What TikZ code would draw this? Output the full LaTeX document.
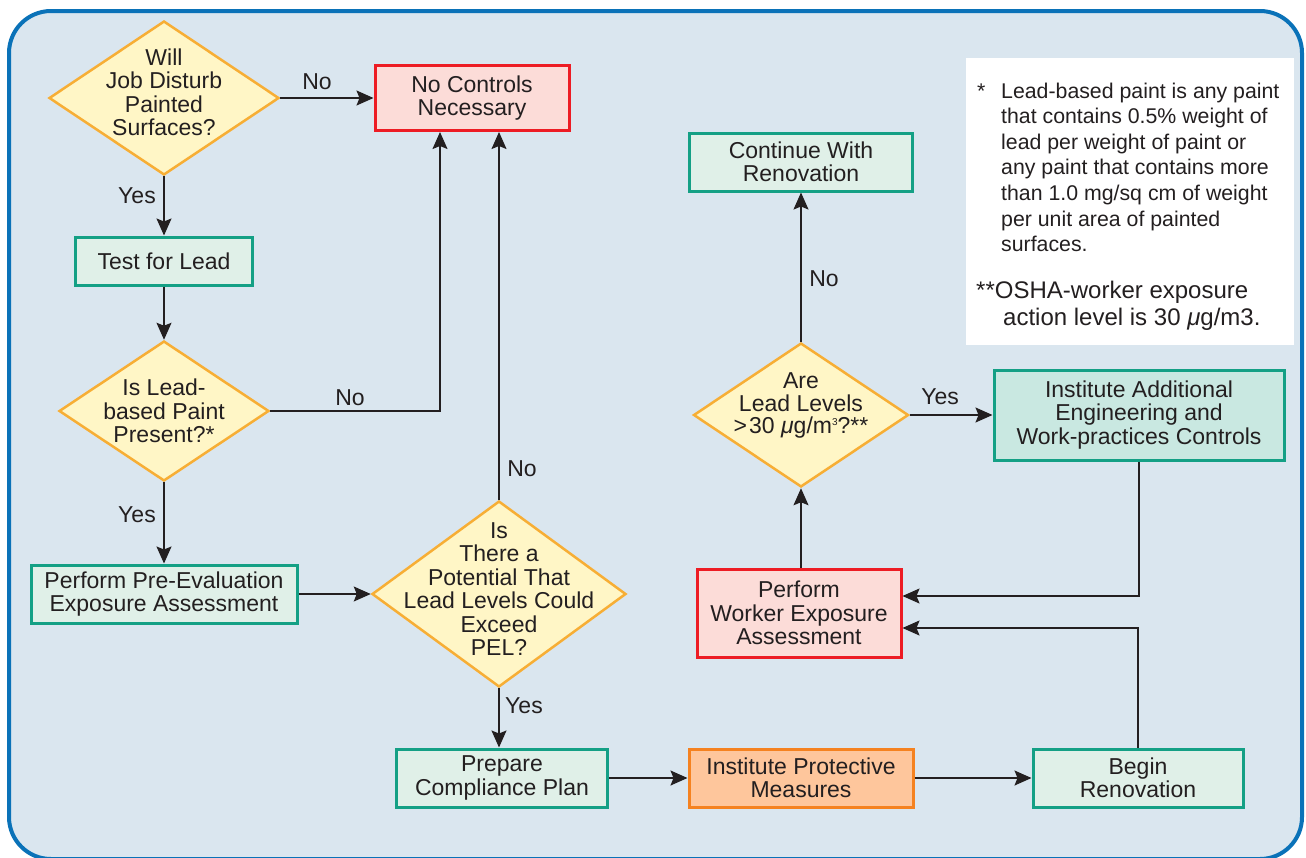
\documentclass[tikz,border=0pt]{standalone}
\usepackage{fontspec}
\setmainfont{Liberation Sans}
\usetikzlibrary{shapes.geometric,arrows.meta}
\definecolor{bg}{HTML}{DAE6EF}
\definecolor{outer}{HTML}{0A72B8}
\definecolor{dfill}{HTML}{FFF6C6}
\definecolor{dline}{HTML}{F7AE35}
\definecolor{gfill}{HTML}{E0F0E8}
\definecolor{gline}{HTML}{14A085}
\definecolor{tfill}{HTML}{C9E8E1}
\definecolor{rfill}{HTML}{FCDCD8}
\definecolor{rline}{HTML}{ED1C24}
\definecolor{ofill}{HTML}{FEC69C}
\definecolor{oline}{HTML}{F58220}
\definecolor{txt}{HTML}{231F20}
\definecolor{conn}{HTML}{231F20}
\begin{document}
\begin{tikzpicture}[x=1pt,y=-1pt,
  mainfont/.style={font=\fontsize{23}{23.5}\selectfont},
  box/.style={rectangle, line width=3pt, inner sep=0pt, align=center, mainfont, text=txt},
  gbox/.style={box, draw=gline, fill=gfill},
  tbox/.style={box, draw=gline, fill=tfill},
  rbox/.style={box, draw=rline, fill=rfill},
  obox/.style={box, draw=oline, fill=ofill},
  dia/.style={diamond, draw=dline, fill=dfill, line width=2.5pt, inner sep=0pt},
  dtext/.style={mainfont, align=center, text=txt, inner sep=0pt},
  lbl/.style={mainfont, text=txt, inner sep=0pt},
  arr/.style={line width=1.5pt, draw=conn, -{Stealth[length=17pt, width=15pt, inset=3pt]}},
  notefont/.style={font=\fontsize{21.3}{25.6}\selectfont, text=txt, inner sep=0pt},
  notefontb/.style={font=\fontsize{24}{27}\selectfont, text=txt, inner sep=0pt}
]
\useasboundingbox (0,0) rectangle (1306,857);
\begin{scope}
\clip (0,0) rectangle (1306,857);
\draw[line width=4pt, draw=outer, fill=bg, rounded corners=42pt] (9,11) rectangle (1302,859);
\end{scope}

% note box
\node[rectangle, fill=white, draw=none, minimum width=328pt, minimum height=287pt, inner sep=0pt] (note) at (1130,201.5) {};
\node[notefont, anchor=base west] (n1) at (977,98) {\begin{tabular}[t]{@{}l@{}l@{}}\makebox[24pt][l]{*} & Lead-based paint is any paint\\
 & that contains 0.5\% weight of\\
 & lead per weight of paint or\\
 & any paint that contains more\\
 & than 1.0 mg/sq cm of weight\\
 & per unit area of painted\\
 & surfaces.\end{tabular}};
\node[notefontb, anchor=base west] (n2) at (976,298) {**OSHA-worker exposure};
\node[notefontb, anchor=base west] (n3) at (1003,325) {action level is 30 {\itshape μ}g/m3.};

% diamonds
\node[dia, minimum width=230pt, minimum height=154pt,
  label={[dtext, yshift=5.5pt]center:Will\\Job Disturb\\Painted\\Surfaces?}] (d1) at (164,98) {};
\node[dia, minimum width=210pt, minimum height=140pt,
  label={[dtext]center:Is Lead-\\based Paint\\Present?*}] (d2) at (164,411) {};
\node[dia, minimum width=254pt, minimum height=186pt,
  label={[dtext, yshift=5pt]center:Is\\There a\\Potential That\\Lead Levels Could\\Exceed\\PEL?}] (d3) at (499,594) {};
\node[dia, minimum width=215pt, minimum height=144pt,
  label={[dtext, yshift=9.5pt, font=\fontsize{23}{22.5}\selectfont]center:Are\\Lead Levels\\>\kern2pt30 {\itshape μ}g/m\raisebox{8pt}{\fontsize{10}{10}\selectfont 3}?**}] (d4) at (801,415) {};

% boxes
\node[rbox, minimum width=194pt, minimum height=65pt] (noctrl) at (472,98) {No Controls\\Necessary};
\node[gbox, minimum width=177pt, minimum height=48pt] (test) at (164,261) {Test for Lead};
\node[gbox, minimum width=266pt, minimum height=58pt] (pre) at (164,594) {Perform Pre-Evaluation\\Exposure Assessment};
\node[gbox, minimum width=211pt, minimum height=58pt] (prep) at (502,778) {Prepare\\Compliance Plan};
\node[obox, minimum width=224pt, minimum height=58pt] (ipm) at (801,778) {Institute Protective\\Measures};
\node[gbox, minimum width=210pt, minimum height=58pt] (begin) at (1138,778) {Begin\\Renovation};
\node[rbox, minimum width=204pt, minimum height=88pt] (pwe) at (799,613) {Perform\\Worker Exposure\\Assessment};
\node[gbox, minimum width=223pt, minimum height=58pt] (cont) at (801,162) {Continue With\\Renovation};
\node[tbox, minimum width=290pt, minimum height=90pt] (iaec) at (1139,415) {Institute Additional\\Engineering and\\Work-practices Controls};

% connectors
\coordinate (c1) at (440,0);
\draw[arr] (d1.east) -- (noctrl.west);
\draw[arr] (d1.south) -- (test.north);
\draw[arr] (test.south) -- (d2.north);
\draw[arr] (d2.east) -| (c1 |- noctrl.south);
\draw[arr] (d2.south) -- (pre.north);
\draw[arr] (pre.east) -- (d3.west);
\draw[arr] (d3.north) -- (d3.north |- noctrl.south);
\draw[arr] (d3.south) -- (d3.south |- prep.north);
\draw[arr] (prep.east) -- (ipm.west);
\draw[arr] (ipm.east) -- (begin.west);
\draw[arr] (begin.north) |- ([yshift=-15pt]pwe.east);
\draw[arr] (iaec.south) |- ([yshift=17pt]pwe.east);
\draw[arr] (pwe.north -| d4.south) -- (d4.south);
\draw[arr] (d4.east) -- (iaec.west);
\draw[arr] (d4.north) -- (d4.north |- cont.south);

% labels
\node[lbl] (l1) at (317,82) {No};
\node[lbl] (l2) at (137,196) {Yes};
\node[lbl] (l3) at (350,398) {No};
\node[lbl] (l4) at (137,515) {Yes};
\node[lbl] (l5) at (522,469) {No};
\node[lbl] (l6) at (524,706) {Yes};
\node[lbl] (l7) at (824,279) {No};
\node[lbl] (l8) at (940,397) {Yes};
\end{tikzpicture}
\end{document}
